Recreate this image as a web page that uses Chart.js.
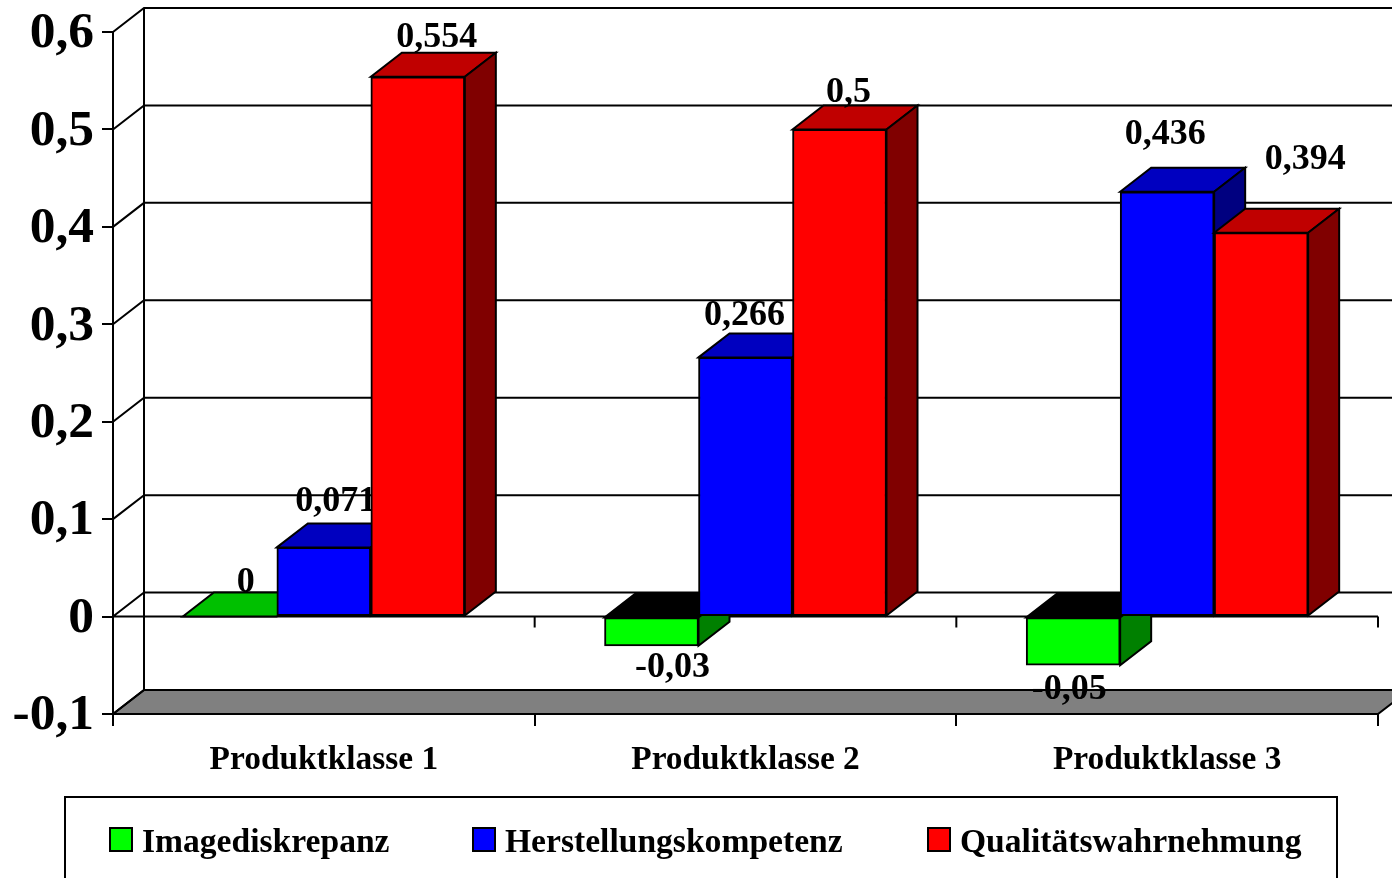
<!DOCTYPE html>
<html>
<head>
<meta charset="utf-8">
<title>Produktklassen</title>
<script src="https://cdn.jsdelivr.net/npm/chart.js@4"></script>
<style>
    html, body { margin: 0; padding: 0; background: #fff; overflow: hidden; }
    canvas { display: block; }
</style>
</head>
<body>
<canvas id="myChart" width="1392" height="878"></canvas>
<script>
const categories = ['Produktklasse 1', 'Produktklasse 2', 'Produktklasse 3'];
const seriesNames = ['Imagediskrepanz', 'Herstellungskompetenz', 'Qualitätswahrnehmung'];
const imagediskrepanz = [0, -0.03, -0.05];
const herstellungskompetenz = [0.071, 0.266, 0.436];
const qualitaetswahrnehmung = [0.554, 0.5, 0.394];
const yTicks = [-0.1, 0, 0.1, 0.2, 0.3, 0.4, 0.5, 0.6];

const frontColors = ['#00ff00', '#0000ff', '#ff0000'];
const topColors = ['#00c000', '#0000c0', '#c00000'];
const sideColors = ['#008000', '#000080', '#800000'];

// Tiefe der 3D-Darstellung in Pixeln
const depthX = 31;
const depthY = 24;
const serif = '"Liberation Serif", "Times New Roman", serif';

// Verschiebung der Wertebeschriftung gegenüber der Balkenmitte / Balkenkante
const labelShiftX = [[16, 21, -4], [12, -1, -2], [19, 9, 44]];
const labelShiftY = [[-34, 22, 24], [-46, -42, -57], [-39, -37, -73]];

function formatValue(v) {
    return String(v).replace('.', ',');
}

function polygon(ctx, points, fill) {
    ctx.beginPath();
    ctx.moveTo(points[0][0], points[0][1]);
    for (let i = 1; i < points.length; i++) {
        ctx.lineTo(points[i][0], points[i][1]);
    }
    ctx.closePath();
    ctx.fillStyle = fill;
    ctx.fill();
    ctx.stroke();
}

// Boden, Rückwand und Nulllinie hinter den Balken
const wallPlugin = {
    id: 'wall',
    beforeDraw(chart) {
        // Achsenbeschriftung sitzt etwas unter der Teilstrichmitte
        chart.scales.y.getLabelItems().forEach(item => {
            item.options.translation[1] += 2;
        });
    },
    beforeDatasetsDraw(chart) {
        const ctx = chart.ctx;
        const area = chart.chartArea;
        const y = chart.scales.y;
        ctx.save();
        ctx.strokeStyle = '#000';
        ctx.lineWidth = 2;

        polygon(ctx, [
            [area.left, area.bottom],
            [area.left + depthX, area.bottom - depthY],
            [area.right + depthX, area.bottom - depthY],
            [area.right, area.bottom]
        ], '#808080');

        ctx.beginPath();
        ctx.moveTo(area.left + depthX, area.top - depthY);
        ctx.lineTo(area.left + depthX, area.bottom - depthY);
        yTicks.forEach(v => {
            const py = y.getPixelForValue(v);
            ctx.moveTo(area.left, py);
            ctx.lineTo(area.left + depthX, py - depthY);
            ctx.lineTo(area.right + depthX, py - depthY);
        });

        // vordere Nulllinie mit Teilstrichen
        const zero = y.getPixelForValue(0);
        ctx.moveTo(area.left, zero);
        ctx.lineTo(area.right, zero);
        const step = area.width / categories.length;
        for (let i = 1; i <= categories.length; i++) {
            ctx.moveTo(area.left + step * i, zero);
            ctx.lineTo(area.left + step * i, zero + 11);
        }
        ctx.stroke();
        ctx.restore();
    }
};

// Deck- und Seitenfläche je Balken, danach die Wertebeschriftung
function drawDepth(chart, meta, s) {
    const ctx = chart.ctx;
    const values = chart.data.datasets[s].data;
    ctx.save();
    ctx.strokeStyle = '#000';
    ctx.lineWidth = 2;
    meta.data.forEach((bar, i) => {
        const p = bar.getProps(['x', 'y', 'base', 'width'], true);
        const left = p.x - p.width / 2;
        const right = p.x + p.width / 2;
        const up = Math.min(p.y, p.base);
        const down = Math.max(p.y, p.base);
        polygon(ctx, [
            [left, up],
            [left + depthX, up - depthY],
            [right + depthX, up - depthY],
            [right, up]
        ], values[i] < 0 ? '#000' : topColors[s]);
        if (down > up) {
            polygon(ctx, [
                [right, up],
                [right + depthX, up - depthY],
                [right + depthX, down - depthY],
                [right, down]
            ], sideColors[s]);
        }
        ctx.fillStyle = '#000';
        ctx.font = 'bold 36px ' + serif;
        ctx.textAlign = 'center';
        ctx.textBaseline = 'middle';
        const anchor = values[i] < 0 ? down : up;
        ctx.fillText(formatValue(values[i]), p.x + labelShiftX[s][i], anchor + labelShiftY[s][i]);
    });
    ctx.restore();
}

// Chart.js zeichnet die letzte Reihe zuerst, hier muss die erste Reihe ganz nach hinten
const depthPlugin = {
    id: 'depth',
    beforeDatasetDraw() {
        return false;
    },
    afterDatasetsDraw(chart) {
        chart.data.datasets.forEach((ds, s) => {
            const meta = chart.getDatasetMeta(s);
            meta.controller.draw();
            drawDepth(chart, meta, s);
        });
    }
};

// Legende im Rahmen unter dem Diagramm
const legendPlugin = {
    id: 'legendBox',
    afterDraw(chart) {
        const ctx = chart.ctx;
        const boxX = [110, 473, 928];
        ctx.save();
        ctx.strokeStyle = '#000';
        ctx.lineWidth = 2;
        ctx.strokeRect(65, 797, 1272, 120);
        ctx.font = 'bold 33.6px ' + serif;
        ctx.textAlign = 'left';
        ctx.textBaseline = 'alphabetic';
        seriesNames.forEach((name, i) => {
            ctx.fillStyle = frontColors[i];
            ctx.fillRect(boxX[i], 828, 22, 23);
            ctx.strokeRect(boxX[i], 828, 22, 23);
            ctx.fillStyle = '#000';
            ctx.fillText(name, boxX[i] + 32, 852);
        });
        ctx.restore();
    }
};

function createDataset(name, values, index) {
    return {
        label: name,
        data: values,
        backgroundColor: frontColors[index],
        borderColor: '#000',
        borderWidth: 2,
        borderSkipped: false,
        barThickness: 94
    };
}

const ctx = document.getElementById('myChart').getContext('2d');
const myChart = new Chart(ctx, {
    type: 'bar',
    data: {
        labels: categories,
        datasets: [
            createDataset(seriesNames[0], imagediskrepanz, 0),
            createDataset(seriesNames[1], herstellungskompetenz, 1),
            createDataset(seriesNames[2], qualitaetswahrnehmung, 2)
        ]
    },
    options: {
        responsive: false,
        animation: false,
        layout: { padding: { top: 32, right: 14, left: 0, bottom: 0 } },
        plugins: {
            legend: { display: false },
            tooltip: { enabled: false }
        },
        scales: {
            x: {
                afterFit(scale) { scale.height = 164; },
                grid: { drawOnChartArea: false, color: '#000', lineWidth: 2, tickLength: 12 },
                border: { display: true, color: '#000', width: 2 },
                ticks: {
                    color: '#000',
                    padding: 14,
                    maxRotation: 0,
                    autoSkip: false,
                    font: { family: serif, weight: 'bold', size: 33.4 }
                }
            },
            y: {
                min: -0.1,
                max: 0.6,
                afterFit(scale) {
                    scale.width = 113;
                    scale.paddingTop = 0;
                    scale.paddingBottom = 0;
                },
                afterBuildTicks(scale) { scale.ticks = yTicks.map(v => ({ value: v })); },
                grid: { drawOnChartArea: false, color: '#000', lineWidth: 2, tickLength: 11 },
                border: { display: true, color: '#000', width: 2 },
                ticks: {
                    color: '#000',
                    padding: 8,
                    callback: v => formatValue(v),
                    font: { family: serif, weight: 'bold', size: 51.5 }
                }
            }
        }
    },
    plugins: [wallPlugin, depthPlugin, legendPlugin]
});
</script>
</body>
</html>
